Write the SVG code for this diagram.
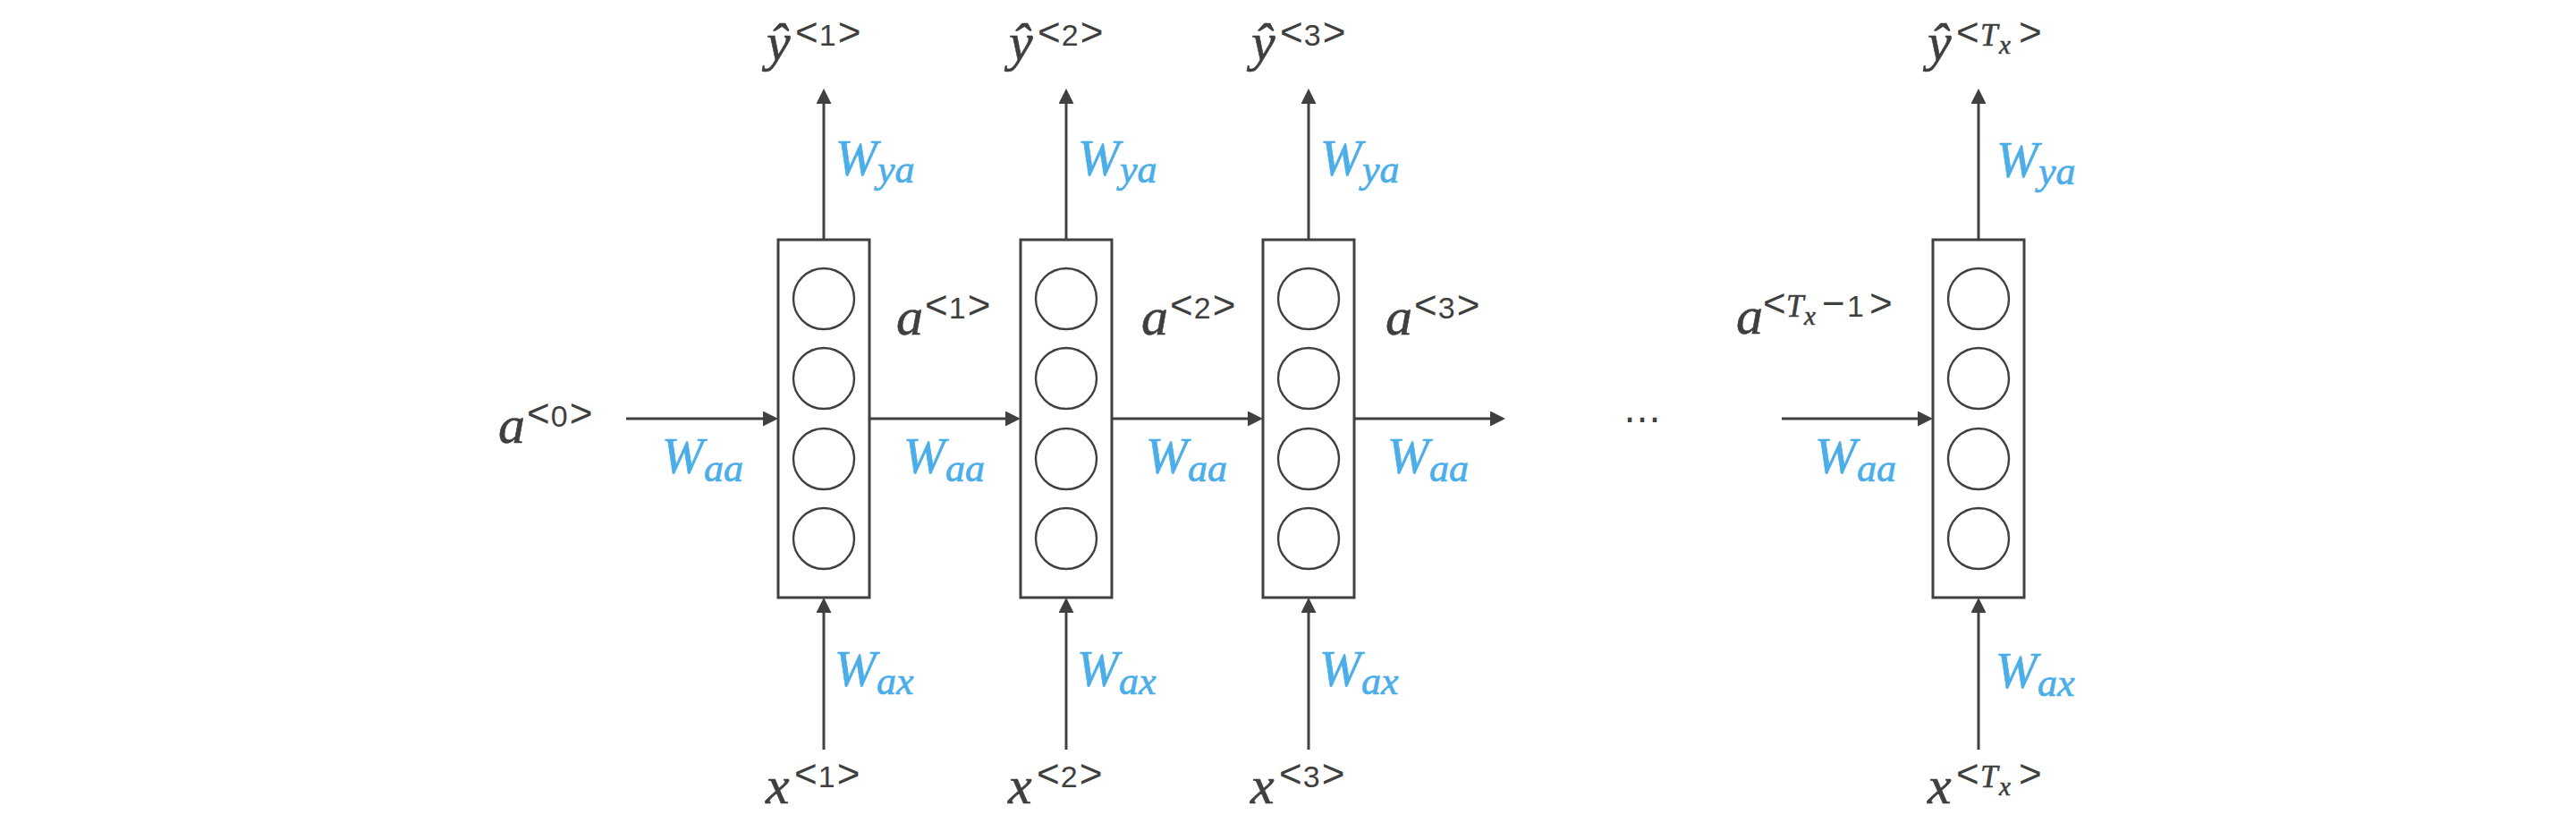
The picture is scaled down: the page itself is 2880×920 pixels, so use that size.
<svg xmlns="http://www.w3.org/2000/svg" width="2880" height="920" viewBox="0 0 2880 920">
<style>
.box{fill:#fff;stroke:#404040;stroke-width:3}
.unit{fill:none;stroke:#404040;stroke-width:2.4}
.conn{stroke:#404040;stroke-width:3;fill:none}
.lbl{fill:#3f3f3f}
.v{font-family:"Liberation Serif",serif;font-style:italic;stroke:#3f3f3f;stroke-width:0.6}
.m{font-size:60px}
.w{font-family:"Liberation Serif",serif;font-style:italic;fill:#4baee8;stroke:#4baee8;stroke-width:0.7}
.wb{font-size:56px}
.ws{font-size:44px}
.br{font-family:"Liberation Sans",sans-serif;font-size:44px}
.d{font-family:"Liberation Sans",sans-serif;font-size:34px}
.t{font-size:35px}
.tx{font-size:29px}
</style>
<defs>
<marker id="ah" markerUnits="userSpaceOnUse" markerWidth="18" markerHeight="18" refX="11" refY="8.5" orient="auto">
<path d="M0,0 L17,8.5 L0,17 z" fill="#404040"/>
</marker>
</defs>
<rect width="2880" height="920" fill="#fff"/>
<g id="connectors">
<line class="conn" x1="921" y1="268" x2="921" y2="105" marker-end="url(#ah)"/>
<line class="conn" x1="1192" y1="268" x2="1192" y2="105" marker-end="url(#ah)"/>
<line class="conn" x1="1463" y1="268" x2="1463" y2="105" marker-end="url(#ah)"/>
<line class="conn" x1="2212" y1="268" x2="2212" y2="105" marker-end="url(#ah)"/>
<line class="conn" x1="921" y1="838" x2="921" y2="674" marker-end="url(#ah)"/>
<line class="conn" x1="1192" y1="838" x2="1192" y2="674" marker-end="url(#ah)"/>
<line class="conn" x1="1463" y1="838" x2="1463" y2="674" marker-end="url(#ah)"/>
<line class="conn" x1="2212" y1="838" x2="2212" y2="674" marker-end="url(#ah)"/>
<line class="conn" x1="700" y1="468" x2="864" y2="468" marker-end="url(#ah)"/>
<line class="conn" x1="972" y1="468" x2="1135" y2="468" marker-end="url(#ah)"/>
<line class="conn" x1="1243" y1="468" x2="1406" y2="468" marker-end="url(#ah)"/>
<line class="conn" x1="1513" y1="468" x2="1677" y2="468" marker-end="url(#ah)"/>
<line class="conn" x1="1992" y1="468" x2="2155" y2="468" marker-end="url(#ah)"/>
</g>
<g id="cell1">
<rect class="box" x="870" y="268" width="102" height="400"/>
<circle class="unit" cx="921" cy="334" r="34"/><circle class="unit" cx="921" cy="423" r="34"/><circle class="unit" cx="921" cy="513" r="34"/><circle class="unit" cx="921" cy="602" r="34"/>
</g>
<g id="cell2">
<rect class="box" x="1141" y="268" width="102" height="400"/>
<circle class="unit" cx="1192" cy="334" r="34"/><circle class="unit" cx="1192" cy="423" r="34"/><circle class="unit" cx="1192" cy="513" r="34"/><circle class="unit" cx="1192" cy="602" r="34"/>
</g>
<g id="cell3">
<rect class="box" x="1412" y="268" width="102" height="400"/>
<circle class="unit" cx="1463" cy="334" r="34"/><circle class="unit" cx="1463" cy="423" r="34"/><circle class="unit" cx="1463" cy="513" r="34"/><circle class="unit" cx="1463" cy="602" r="34"/>
</g>
<g id="cell4">
<rect class="box" x="2161" y="268" width="102" height="400"/>
<circle class="unit" cx="2212" cy="334" r="34"/><circle class="unit" cx="2212" cy="423" r="34"/><circle class="unit" cx="2212" cy="513" r="34"/><circle class="unit" cx="2212" cy="602" r="34"/>
</g>
<g id="outputs" class="lbl">
<text x="857" y="67"><tspan class="v m">ŷ</tspan><tspan class="br" x="889" y="51">&lt;</tspan><tspan class="d" dx="1">1</tspan><tspan class="br" dx="2">&gt;</tspan></text>
<text x="1128" y="67"><tspan class="v m">ŷ</tspan><tspan class="br" x="1160" y="51">&lt;</tspan><tspan class="d" dx="1">2</tspan><tspan class="br" dx="2">&gt;</tspan></text>
<text x="1399" y="67"><tspan class="v m">ŷ</tspan><tspan class="br" x="1431" y="51">&lt;</tspan><tspan class="d" dx="1">3</tspan><tspan class="br" dx="2">&gt;</tspan></text>
<text x="2155" y="67"><tspan class="v m">ŷ</tspan><tspan class="br" x="2187" y="51">&lt;</tspan><tspan class="v t" x="2214" y="51">T</tspan><tspan class="v tx" x="2235" y="60">x</tspan><tspan class="br" x="2257" y="51">&gt;</tspan></text>
</g>
<g id="inputs" class="lbl">
<text x="856" y="898"><tspan class="v m">x</tspan><tspan class="br" x="888" y="880">&lt;</tspan><tspan class="d" dx="1">1</tspan><tspan class="br" dx="2">&gt;</tspan></text>
<text x="1127" y="898"><tspan class="v m">x</tspan><tspan class="br" x="1159" y="880">&lt;</tspan><tspan class="d" dx="1">2</tspan><tspan class="br" dx="2">&gt;</tspan></text>
<text x="1398" y="898"><tspan class="v m">x</tspan><tspan class="br" x="1430" y="880">&lt;</tspan><tspan class="d" dx="1">3</tspan><tspan class="br" dx="2">&gt;</tspan></text>
<text x="2155" y="898"><tspan class="v m">x</tspan><tspan class="br" x="2187" y="880">&lt;</tspan><tspan class="v t" x="2214" y="880">T</tspan><tspan class="v tx" x="2235" y="889">x</tspan><tspan class="br" x="2257" y="880">&gt;</tspan></text>
</g>
<g id="weights-ya">
<text class="w" x="934" y="196"><tspan class="wb">W</tspan><tspan class="ws" x="981" y="204">ya</tspan></text>
<text class="w" x="1205" y="196"><tspan class="wb">W</tspan><tspan class="ws" x="1252" y="204">ya</tspan></text>
<text class="w" x="1476" y="196"><tspan class="wb">W</tspan><tspan class="ws" x="1523" y="204">ya</tspan></text>
<text class="w" x="2232" y="198"><tspan class="wb">W</tspan><tspan class="ws" x="2279" y="206">ya</tspan></text>
</g>
<g id="weights-ax">
<text class="w" x="933" y="767"><tspan class="wb">W</tspan><tspan class="ws" x="980" y="776">ax</tspan></text>
<text class="w" x="1204" y="767"><tspan class="wb">W</tspan><tspan class="ws" x="1251" y="776">ax</tspan></text>
<text class="w" x="1475" y="767"><tspan class="wb">W</tspan><tspan class="ws" x="1522" y="776">ax</tspan></text>
<text class="w" x="2231" y="769"><tspan class="wb">W</tspan><tspan class="ws" x="2278" y="778">ax</tspan></text>
</g>
<g id="weights-aa">
<text class="w" x="740" y="529"><tspan class="wb">W</tspan><tspan class="ws" x="787" y="538">aa</tspan></text>
<text class="w" x="1010" y="529"><tspan class="wb">W</tspan><tspan class="ws" x="1057" y="538">aa</tspan></text>
<text class="w" x="1281" y="529"><tspan class="wb">W</tspan><tspan class="ws" x="1328" y="538">aa</tspan></text>
<text class="w" x="1551" y="529"><tspan class="wb">W</tspan><tspan class="ws" x="1598" y="538">aa</tspan></text>
<text class="w" x="2029" y="529"><tspan class="wb">W</tspan><tspan class="ws" x="2076" y="538">aa</tspan></text>
</g>
<g id="activations" class="lbl">
<text x="557" y="495"><tspan class="v m">a</tspan><tspan class="br" x="589" y="477">&lt;</tspan><tspan class="d" dx="1">0</tspan><tspan class="br" dx="2">&gt;</tspan></text>
<text x="1002" y="374"><tspan class="v m">a</tspan><tspan class="br" x="1034" y="356">&lt;</tspan><tspan class="d" dx="1">1</tspan><tspan class="br" dx="2">&gt;</tspan></text>
<text x="1276" y="374"><tspan class="v m">a</tspan><tspan class="br" x="1308" y="356">&lt;</tspan><tspan class="d" dx="1">2</tspan><tspan class="br" dx="2">&gt;</tspan></text>
<text x="1549" y="374"><tspan class="v m">a</tspan><tspan class="br" x="1581" y="356">&lt;</tspan><tspan class="d" dx="1">3</tspan><tspan class="br" dx="2">&gt;</tspan></text>
<text x="1941" y="373"><tspan class="v m">a</tspan><tspan class="br" x="1971" y="354">&lt;</tspan><tspan class="v t" x="1997" y="354">T</tspan><tspan class="v tx" x="2017" y="363">x</tspan><tspan class="br" x="2037" y="354">−</tspan><tspan class="d" x="2065" y="354">1</tspan><tspan class="br" x="2090" y="354">&gt;</tspan></text>
</g>
<g id="ellipsis" class="lbl">
<text x="1815" y="472" style="font-family:'DejaVu Sans',sans-serif;font-size:42px">…</text>
</g>
</svg>
